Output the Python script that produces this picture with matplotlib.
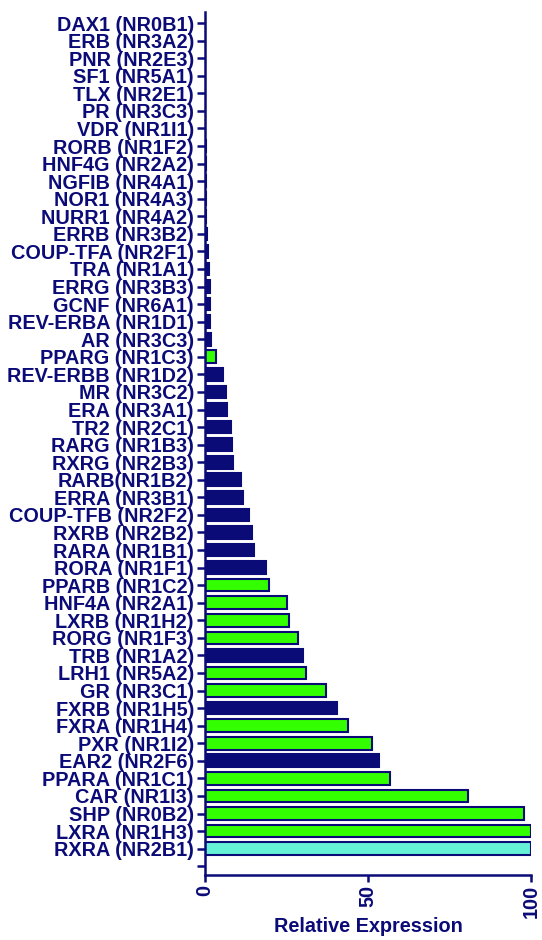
import matplotlib
matplotlib.use("Agg")
import matplotlib.pyplot as plt

# receptors, listed top to bottom as in the figure
receptors = [
    "DAX1 (NR0B1)", "ERB (NR3A2)", "PNR (NR2E3)", "SF1 (NR5A1)", "TLX (NR2E1)",
    "PR (NR3C3)", "VDR (NR1I1)", "RORB (NR1F2)", "HNF4G (NR2A2)", "NGFIB (NR4A1)",
    "NOR1 (NR4A3)", "NURR1 (NR4A2)", "ERRB (NR3B2)", "COUP-TFA (NR2F1)", "TRA (NR1A1)",
    "ERRG (NR3B3)", "GCNF (NR6A1)", "REV-ERBA (NR1D1)", "AR (NR3C3)", "PPARG (NR1C3)",
    "REV-ERBB (NR1D2)", "MR (NR3C2)", "ERA (NR3A1)", "TR2 (NR2C1)", "RARG (NR1B3)",
    "RXRG (NR2B3)", "RARB(NR1B2)", "ERRA (NR3B1)", "COUP-TFB (NR2F2)", "RXRB (NR2B2)",
    "RARA (NR1B1)", "RORA (NR1F1)", "PPARB (NR1C2)", "HNF4A (NR2A1)", "LXRB (NR1H2)",
    "RORG (NR1F3)", "TRB (NR1A2)", "LRH1 (NR5A2)", "GR (NR3C1)", "FXRB (NR1H5)",
    "FXRA (NR1H4)", "PXR (NR1I2)", "EAR2 (NR2F6)", "PPARA (NR1C1)", "CAR (NR1I3)",
    "SHP (NR0B2)", "LXRA (NR1H3)", "RXRA (NR2B1)",
]
expression = [
    0.1, 0.1, 0.1, 0.1, 0.1,
    0.15, 0.15, 0.2, 0.2, 0.25,
    0.3, 0.35, 0.6, 1.0, 1.3,
    1.4, 1.5, 1.6, 1.9, 3.4,
    5.4, 6.3, 6.7, 8.1, 8.2,
    8.6, 11.0, 11.6, 13.5, 14.3,
    15.1, 18.6, 19.6, 25.0, 25.9,
    28.4, 30.1, 31.1, 37.0, 40.4,
    43.9, 51.3, 53.3, 56.8, 80.6,
    98.0, 100.0, 100.0,
]
# 0 = other receptors, 1 = highlighted, 2 = RXRA
group = [
    0, 0, 0, 0, 0, 0, 0, 0, 0, 0, 0, 0, 0, 0, 0, 0, 0, 0, 0, 1,
    0, 0, 0, 0, 0, 0, 0, 0, 0, 0, 0, 0, 1, 1, 1, 1, 0, 1, 1, 0,
    1, 1, 0, 1, 1, 1, 1, 2,
]
x_ticks = [0, 50, 100]

navy = "#0b0b78"
fill = {0: "#0b0b78", 1: "#33ff00", 2: "#66f2d6"}

plt.rcParams["font.family"] = ["Liberation Sans", "DejaVu Sans"]
plt.rcParams["font.weight"] = "bold"

fig = plt.figure(figsize=(5.42, 9.40), dpi=100)
ax = fig.add_axes([205 / 542, 1 - 875 / 940, 326 / 542, 863 / 940])

pos = list(range(len(receptors)))
ax.barh(pos, expression, height=0.72, color=[fill[g] for g in group],
        edgecolor=navy, linewidth=1.5, zorder=2)

ax.set_yticks(pos + [len(receptors)])
ax.set_yticklabels(receptors + [""])
ax.set_ylim(len(receptors) + 0.5, -0.63)
ax.set_xlim(0, 100)
ax.set_xticks(x_ticks)
ax.set_xticklabels([str(t) for t in x_ticks], rotation=90)

for side in ["top", "right"]:
    ax.spines[side].set_visible(False)
for side in ["left", "bottom"]:
    ax.spines[side].set_color(navy)
    ax.spines[side].set_linewidth(1.8)

ax.tick_params(axis="y", colors=navy, length=6, width=1.8, pad=2, labelsize=14.3)
ax.tick_params(axis="x", colors=navy, length=5, width=1.8, pad=2, labelsize=14.3)
for lbl in ax.get_yticklabels() + ax.get_xticklabels():
    lbl.set_fontweight("bold")

ax.set_xlabel("Relative Expression", fontsize=14.3, fontweight="bold", color=navy,
              va="center")
ax.xaxis.set_label_coords(0.5, (875 - 926) / 863)

plt.savefig("out.png", dpi=100)
print("Saved out.png")
